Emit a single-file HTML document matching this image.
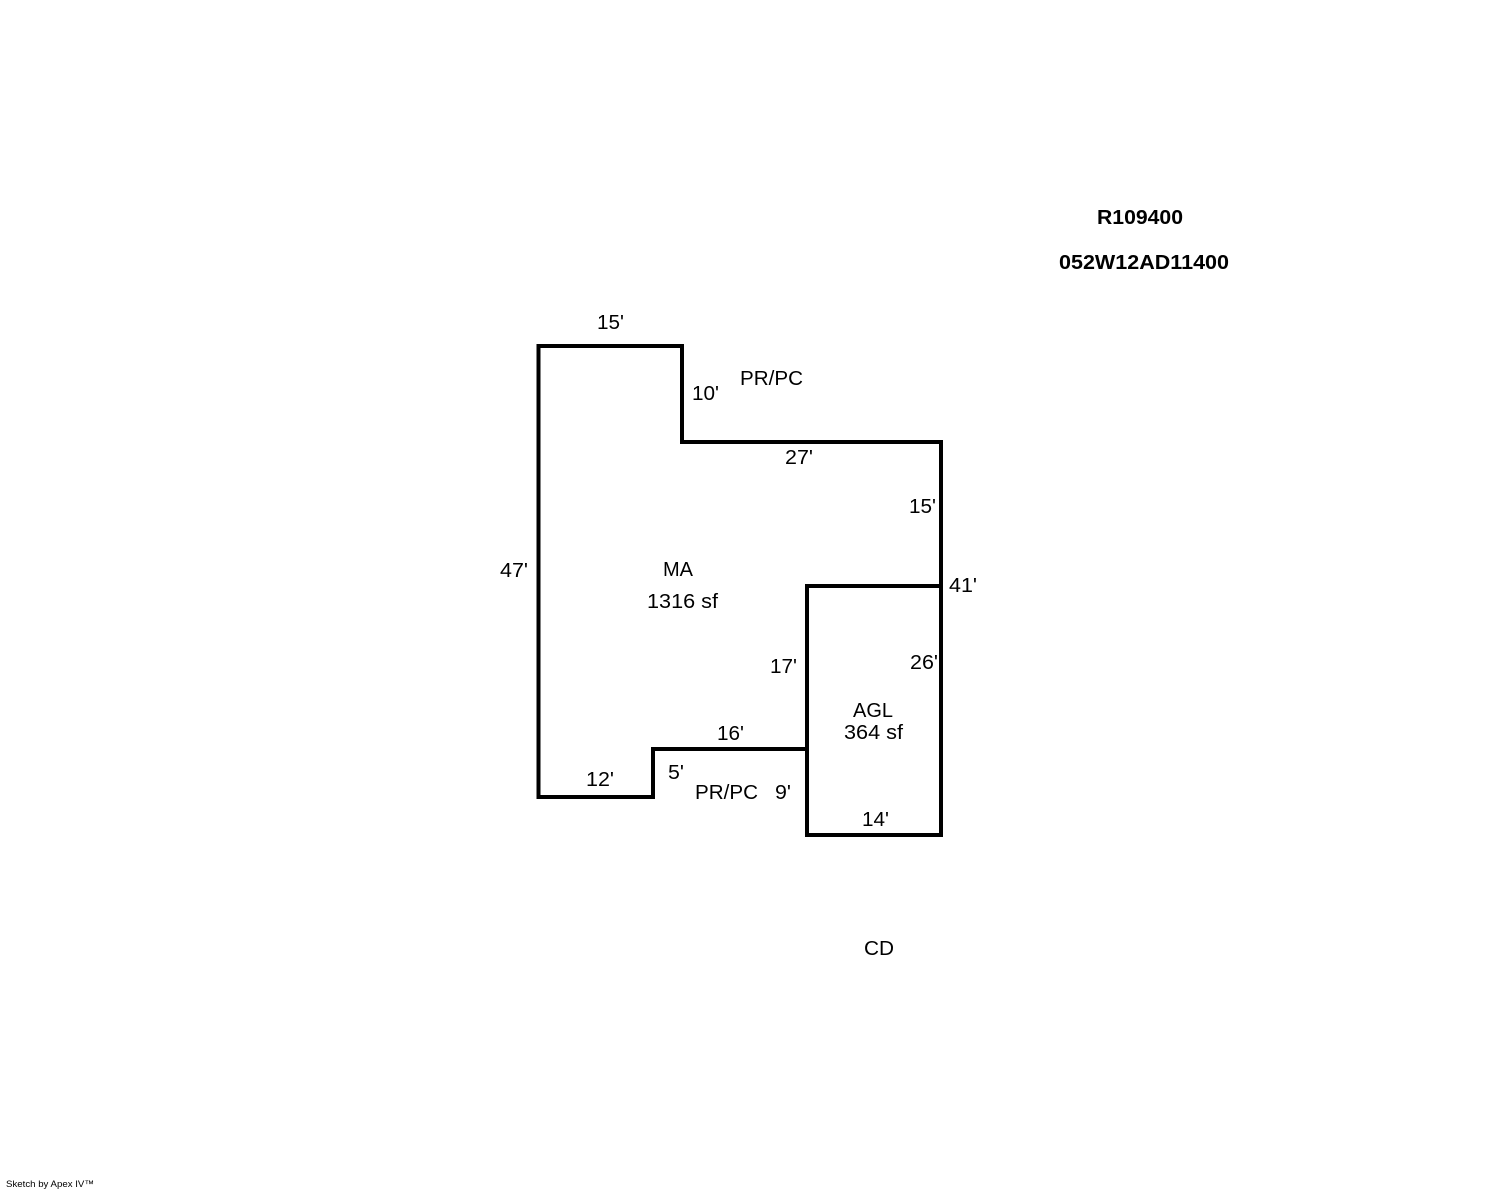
<!DOCTYPE html>
<html>
<head>
<meta charset="utf-8">
<style>
html,body{margin:0;padding:0;background:#fff;width:1488px;height:1190px;overflow:hidden}
svg{display:block}
text{font-family:"Liberation Sans",Arial,sans-serif;font-size:20px;fill:#000}
.b{font-weight:bold}
</style>
</head>
<body>
<svg width="1488" height="1190" viewBox="0 0 1488 1190" xmlns="http://www.w3.org/2000/svg">
<rect width="1488" height="1190" fill="#fff"/>
<g fill="none" stroke="#000" stroke-width="4" stroke-linecap="square" stroke-linejoin="miter">
<path d="M538.5 346H682V442H941V835H807V749H653V797H538.5Z"/>
<path d="M807 749V586H941"/>
</g>
<g lengthAdjust="spacingAndGlyphs">
<text class="b" x="1097" y="224" textLength="86" lengthAdjust="spacingAndGlyphs">R109400</text>
<text class="b" x="1059" y="269" textLength="170" lengthAdjust="spacingAndGlyphs">052W12AD11400</text>
<text x="597" y="329" textLength="27" lengthAdjust="spacingAndGlyphs">15'</text>
<text x="692" y="400" textLength="27" lengthAdjust="spacingAndGlyphs">10'</text>
<text x="740" y="385" textLength="63" lengthAdjust="spacingAndGlyphs">PR/PC</text>
<text x="785" y="464" textLength="28" lengthAdjust="spacingAndGlyphs">27'</text>
<text x="909" y="513" textLength="27" lengthAdjust="spacingAndGlyphs">15'</text>
<text x="500" y="577" textLength="28" lengthAdjust="spacingAndGlyphs">47'</text>
<text x="663" y="576" textLength="30" lengthAdjust="spacingAndGlyphs">MA</text>
<text x="647" y="608" textLength="71" lengthAdjust="spacingAndGlyphs">1316 sf</text>
<text x="949" y="592" textLength="28" lengthAdjust="spacingAndGlyphs">41'</text>
<text x="910" y="669" textLength="28" lengthAdjust="spacingAndGlyphs">26'</text>
<text x="770" y="673" textLength="27" lengthAdjust="spacingAndGlyphs">17'</text>
<text x="717" y="740" textLength="27" lengthAdjust="spacingAndGlyphs">16'</text>
<text x="853" y="717" textLength="40" lengthAdjust="spacingAndGlyphs">AGL</text>
<text x="844" y="739" textLength="59" lengthAdjust="spacingAndGlyphs">364 sf</text>
<text x="586" y="786" textLength="28" lengthAdjust="spacingAndGlyphs">12'</text>
<text x="668" y="779" textLength="16" lengthAdjust="spacingAndGlyphs">5'</text>
<text x="695" y="799" textLength="63" lengthAdjust="spacingAndGlyphs">PR/PC</text>
<text x="775" y="799" textLength="16" lengthAdjust="spacingAndGlyphs">9'</text>
<text x="862" y="826" textLength="27" lengthAdjust="spacingAndGlyphs">14'</text>
<text x="864" y="955" textLength="30" lengthAdjust="spacingAndGlyphs">CD</text>
<text x="6" y="1187" style="font-size:9.5px" textLength="88" lengthAdjust="spacingAndGlyphs">Sketch by Apex IV™</text>
</g>
</svg>
</body>
</html>
